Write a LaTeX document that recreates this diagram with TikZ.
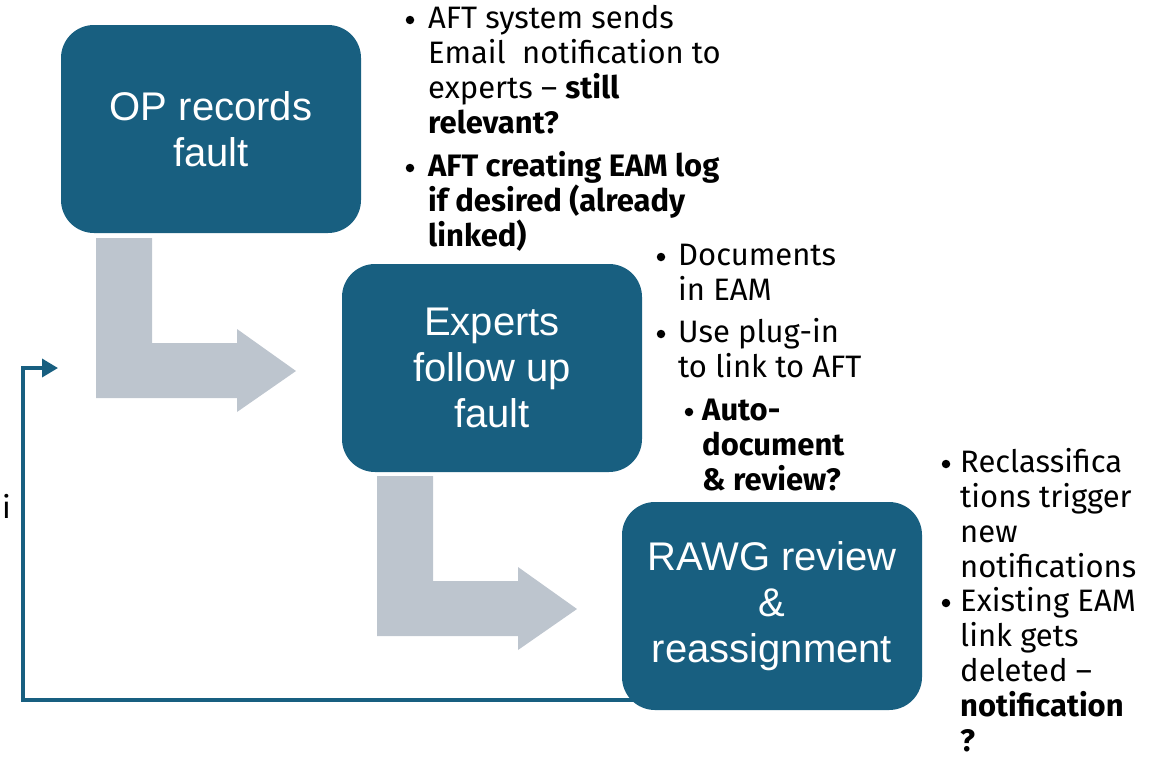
\documentclass[tikz,border=0pt]{standalone}
\usepackage{fontspec}
\setmainfont{Fira Sans}
\newfontfamily\boxfont{Liberation Sans}
\usetikzlibrary{arrows.meta,positioning}

\definecolor{boxteal}{HTML}{185F80}
\definecolor{arrowgrey}{HTML}{BDC5CE}

\tikzset{
	stepbox/.style={fill=boxteal, rounded corners=33pt, minimum width=300pt, minimum height=208pt,
		inner sep=0pt, text=white, align=center, font=\boxfont\fontsize{40}{46}\selectfont},
	note/.style={anchor=base west, align=left, inner sep=0pt, font=\fontsize{31}{35}\selectfont},
	dot/.style={circle, fill=black, inner sep=0pt, minimum size=8.5pt},
	bendarrow/.style={fill=arrowgrey},
	loopline/.style={draw=boxteal, line width=3.5pt, -{Triangle[length=16pt,width=18pt]}}
}

\begin{document}
\begin{tikzpicture}[x=1pt,y=-1pt]
	\useasboundingbox (0,0) rectangle (1158,758);

	% Grey bent arrows
		\fill[bendarrow] (96,238) -- (152,238) -- (152,343) -- (237,343) -- (237,329)
			-- (296,371) -- (237,412) -- (237,398) -- (96,398) -- cycle;
		\fill[bendarrow] (377,476) -- (433,476) -- (433,581) -- (518,581) -- (518,567)
			-- (577,609) -- (518,650) -- (518,636) -- (377,636) -- cycle;

	% Steps
		\node[stepbox] (op) at (211,129) {OP records\\fault};
		\node[stepbox] (experts) at (492,368) {Experts\\follow up\\fault};

	% Loop back
		\coordinate (loopstart) at (643,700);
		\coordinate (loopfoot) at (23,700);
		\coordinate (looptop) at (23,368);
		\coordinate (loopend) at (58,368);
		\draw[loopline] (loopstart) -- (loopfoot) -- (looptop) -- (loopend);

		\node[stepbox] (rawg) at (772,606) {RAWG review\\\&\\reassignment};

	% Notes for OP (notes sit on their last baseline)
		\node[dot] (opdota) at (410,20) {};
		\node[note] (opnotea) at (428,133) {AFT system sends\\Email\ \ notification to\\experts -- \textbf{still}\\\textbf{relevant?}};
		\node[dot] (opdotb) at (410,168) {};
		\node[note] (opnoteb) at (428,246) {\textbf{AFT creating EAM log}\\\textbf{if desired (already}\\\textbf{linked)}};

	% Notes for experts
		\node[dot] (exdota) at (661,257) {};
		\node[note] (exnotea) at (678,300) {Documents\\in EAM};
		\node[dot] (exdotb) at (661,334) {};
		\node[note] (exnoteb) at (678,377) {Use plug-in\\to link to AFT};
		\node[dot] (exdotc) at (689,412) {};
		\node[note] (exnotec) at (702,490) {\textbf{Auto-}\\\textbf{document}\\\textbf{\& review?}};

	% Notes for RAWG
		\node[dot] (rwdota) at (946,464) {};
		\node[note] (rwnotea) at (960,577) {Reclassifica\\tions trigger\\new\\notifications};
		\node[dot] (rwdotb) at (946,603) {};
		\node[note] (rwnoteb) at (960,751) {Existing EAM\\link gets\\deleted --\\\textbf{notification}\\\textbf{?}};

		\node[note] (stray) at (2,518) {i};
\end{tikzpicture}
\end{document}
